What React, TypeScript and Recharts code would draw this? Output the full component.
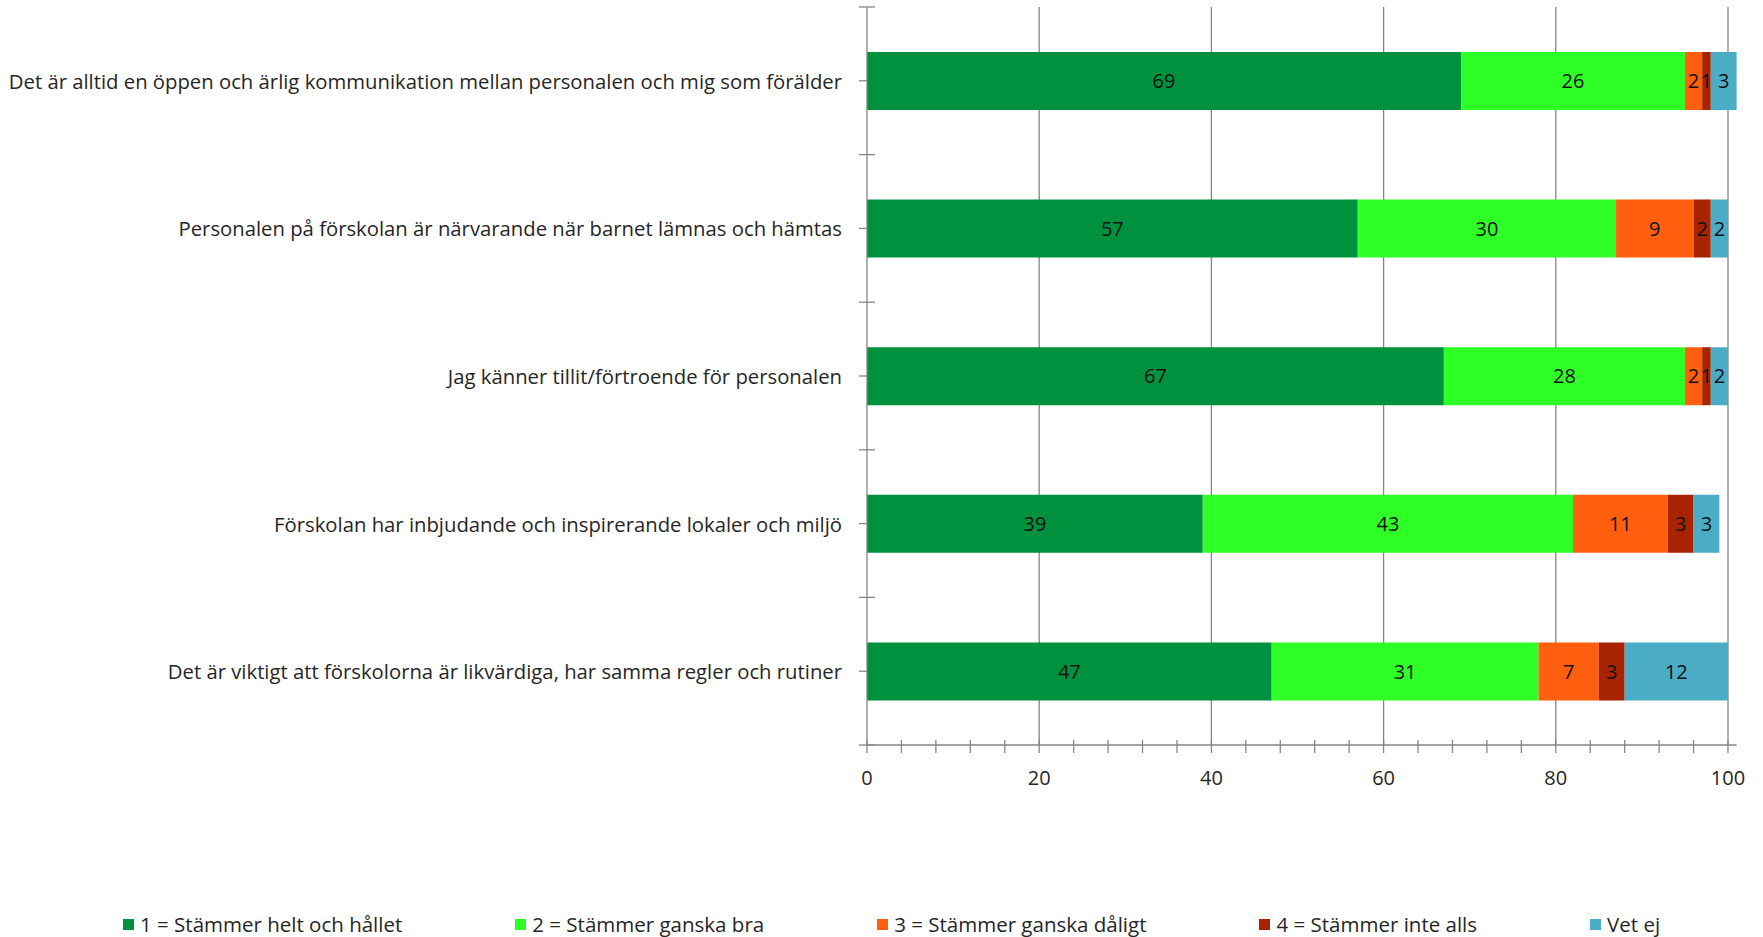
import React from 'react';
import { BarChart, Bar, XAxis, YAxis, CartesianGrid, LabelList, Legend } from 'recharts';

const categories = [
  'Det är alltid en öppen och ärlig kommunikation mellan personalen och mig som förälder',
  'Personalen på förskolan är närvarande när barnet lämnas och hämtas',
  'Jag känner tillit/förtroende för personalen',
  'Förskolan har inbjudande och inspirerande lokaler och miljö',
  'Det är viktigt att förskolorna är likvärdiga, har samma regler och rutiner',
];
const helt = [69, 57, 67, 39, 47];
const ganskaBra = [26, 30, 28, 43, 31];
const ganskaDaligt = [2, 9, 2, 11, 7];
const inteAlls = [1, 2, 1, 3, 3];
const vetEj = [3, 2, 2, 3, 12];

const seriesKeys = ['s1', 's2', 's3', 's4', 's5'];
const seriesNames = [
  '1 = Stämmer helt och hållet',
  '2 = Stämmer ganska bra',
  '3 = Stämmer ganska dåligt',
  '4 = Stämmer inte alls',
  'Vet ej',
];
const seriesColors = ['#00913F', '#2EFF26', '#FF5F0F', '#A82300', '#4BACC6'];
const majorTicks = [0, 20, 40, 60, 80, 100];
const minorTicks = [0, 4, 8, 12, 16, 20, 24, 28, 32, 36, 40, 44, 48, 52, 56, 60, 64, 68, 72, 76, 80, 84, 88, 92, 96, 100];
const gridValues = [20, 40, 60, 80, 100];

const data = categories.map((name, i) => ({
  name,
  s1: helt[i],
  s2: ganskaBra[i],
  s3: ganskaDaligt[i],
  s4: inteAlls[i],
  s5: vetEj[i],
}));

const FONT = '"Open Sans", "Noto Sans", sans-serif';
const AXIS = '#868686';
const TEXT = '#262626';

const YTick = (props: any) => {
  const { x, y, payload, index, visibleTicksCount } = props;
  const half = payload && payload.offset ? payload.offset : 73.8;
  const ax = x + 25;
  return (
    <g>
      <text x={x} y={y} textAnchor="end" dominantBaseline="central" fontFamily={FONT} fontSize={20.3} fill={TEXT}>
        {payload.value}
      </text>
      <line x1={ax - 8} x2={ax + 8} y1={y - half} y2={y - half} stroke={AXIS} strokeWidth={1.3} />
      {index === visibleTicksCount - 1 ? (
        <line x1={ax - 8} x2={ax + 8} y1={y + half} y2={y + half} stroke={AXIS} strokeWidth={1.3} />
      ) : null}
    </g>
  );
};

const XTick = (props: any) => {
  const { x, y, payload } = props;
  const ay = y - 32;
  const v = payload.value;
  return (
    <g>
      <line x1={x} x2={x} y1={ay - 5} y2={ay + 8} stroke={AXIS} strokeWidth={1.3} />
      {majorTicks.includes(v) ? (
        <text x={x} y={y} textAnchor="middle" dominantBaseline="central" fontFamily={FONT} fontSize={20} fill={TEXT}>
          {v}
        </text>
      ) : null}
    </g>
  );
};

const renderLegend = () => (
  <div
    style={{
      display: 'flex',
      flexDirection: 'row',
      alignItems: 'center',
      gap: 113,
      paddingLeft: 123,
      height: 38,
      fontFamily: FONT,
      fontSize: 20.5,
      color: TEXT,
      whiteSpace: 'nowrap',
    }}
  >
    {seriesNames.map((n, i) => (
      <div key={n} style={{ display: 'flex', alignItems: 'center' }}>
        <span style={{ display: 'inline-block', width: 11, height: 11, background: seriesColors[i], marginRight: 6 }} />
        <span>{n}</span>
      </div>
    ))}
  </div>
);

export default function App() {
  return (
    <div style={{ position: 'absolute', left: 0, top: 0, width: 1763, height: 937, background: '#fff' }}>
      <BarChart
        width={1763}
        height={937}
        data={data}
        layout="vertical"
        margin={{ top: 7, right: 26.4, bottom: 0, left: 0 }}
        barSize={58}
      >
        <CartesianGrid horizontal={false} vertical={true} verticalValues={gridValues} stroke={AXIS} strokeWidth={1.3} />
        <XAxis
          type="number"
          domain={[0, 101]}
          ticks={minorTicks}
          interval={0}
          allowDecimals={false}
          height={154}
          tickSize={8}
          tickMargin={24}
          tickLine={false}
          axisLine={{ stroke: AXIS, strokeWidth: 1.3 }}
          tick={<XTick />}
        />
        <YAxis
          type="category"
          dataKey="name"
          width={867}
          interval={0}
          tickSize={8}
          tickMargin={17}
          tickLine={{ stroke: AXIS, strokeWidth: 1.3 }}
          axisLine={{ stroke: AXIS, strokeWidth: 1.3 }}
          tick={<YTick />}
        />
        <Legend
          verticalAlign="bottom"
          content={renderLegend}
          wrapperStyle={{ position: 'absolute', left: 0, top: 905, width: 1763, height: 38 }}
        />
        {seriesKeys.map((k, i) => (
          <Bar key={k} dataKey={k} name={seriesNames[i]} stackId="a" fill={seriesColors[i]} isAnimationActive={false}>
            <LabelList dataKey={k} position="center" fill="#111" fontSize={20} fontFamily={FONT} />
          </Bar>
        ))}
      </BarChart>
    </div>
  );
}
